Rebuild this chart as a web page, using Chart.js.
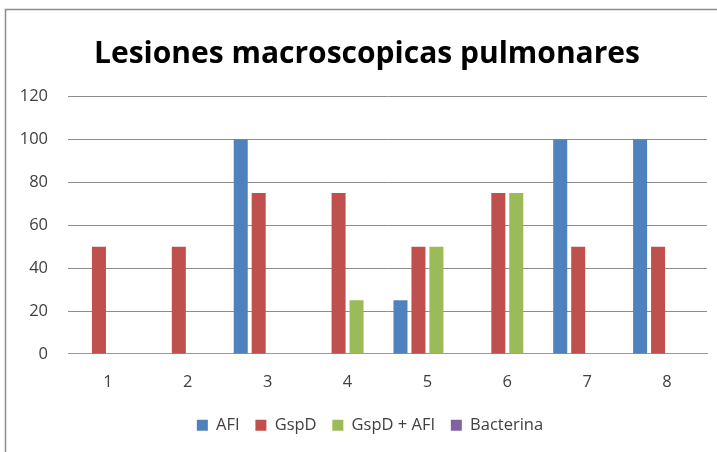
<!DOCTYPE html>
<html>
<head>
<meta charset="utf-8">
<script src="https://cdn.jsdelivr.net/npm/chart.js@4/dist/chart.umd.min.js"></script>
<style>
html,body{margin:0;padding:0;background:#fff;}
#wrap{position:relative;width:717px;height:452px;}
</style>
</head>
<body>
<div id="wrap"><canvas id="c" width="717" height="452"></canvas></div>
<script>
const categories = ["1","2","3","4","5","6","7","8"];
const afi = [0,0,100,0,25,0,100,100];
const gspd = [50,50,75,75,50,75,50,50];
const gspdAfi = [0,0,0,25,50,75,0,0];
const bacterina = [0,0,0,0,0,0,0,0];
const yTicks = [0,20,40,60,80,100,120];

const frame = {
  id:'frame',
  afterLayout(chart){
    const lg = chart.legend;
    if (lg){ lg.left += 16.5; lg.right += 16.5; lg.top -= 8.5; lg.bottom -= 8.5; }
    const tb = chart.titleBlock;
    if (tb){ tb.left += 13.5; tb.right += 13.5; }
  },
  beforeDraw(chart){
    const ctx = chart.ctx;
    ctx.save();
    ctx.strokeStyle = '#8c8c8c';
    ctx.lineWidth = 1.5;
    ctx.beginPath();
    ctx.moveTo(5.5, 452);
    ctx.lineTo(5.5, 9.5);
    ctx.lineTo(717, 9.5);
    ctx.stroke();
    ctx.restore();
  }
};

new Chart(document.getElementById('c'), {
  type:'bar',
  data:{
    labels:categories,
    datasets:[
      {label:'AFI', data:afi, backgroundColor:'#4F81BD'},
      {label:'GspD', data:gspd, backgroundColor:'#C0504D'},
      {label:'GspD + AFI', data:gspdAfi, backgroundColor:'#9BBB59'},
      {label:'Bacterina', data:bacterina, backgroundColor:'#8064A2'}
    ]
  },
  options:{
    responsive:false,
    animation:false,
    layout:{padding:{left:0,right:10,top:36,bottom:0}},
    datasets:{bar:{categoryPercentage:0.9, barPercentage:0.78}},
    plugins:{
      title:{display:true, text:'Lesiones macroscopicas pulmonares', color:'#000',
        font:{family:'Open Sans', size:30, weight:'bold'}, padding:{top:0,bottom:24.5}},
      legend:{position:'bottom', labels:{boxWidth:11, boxHeight:11, color:'#404040',
        font:{family:'Open Sans', size:16.5}, padding:15.75}},
      tooltip:{enabled:false}
    },
    scales:{
      x:{
        grid:{display:false, drawTicks:false},
        border:{color:'#999999'},
        ticks:{color:'#404040', font:{family:'Open Sans', size:16.5}, padding:18}
      },
      y:{
        min:0, max:120,
        afterBuildTicks(ax){ ax.ticks = yTicks.map(v=>({value:v})); },
        afterFit(ax){ ax.width = 68; },
        grid:{color:'#8c8c8c', drawTicks:false},
        border:{display:false},
        ticks:{color:'#404040', font:{family:'Open Sans', size:16.5}, padding:20}
      }
    }
  },
  plugins:[frame]
});
</script>
</body>
</html>
